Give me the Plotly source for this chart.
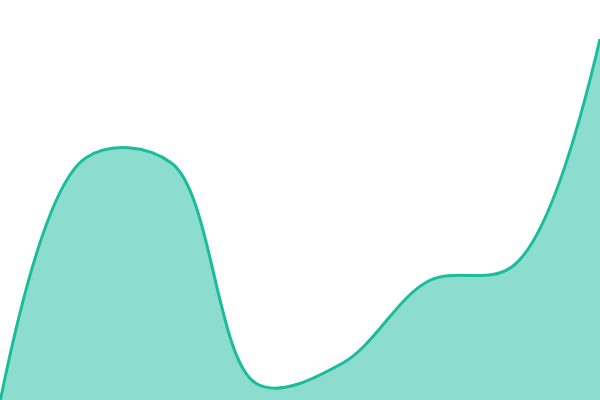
import plotly.graph_objects as go

x_vals = [0, 1, 2, 3, 4, 5, 6, 7]
y_vals = [-2, 242, 237, 16, 37, 119, 135, 361]

fig = go.Figure()
fig.add_trace(go.Scatter(
    x=x_vals, y=y_vals, mode="lines",
    line=dict(color="#1abc9c", width=3, shape="spline", smoothing=1),
    fill="tozeroy", fillcolor="rgba(26,188,156,0.5)",
    hoverinfo="skip",
))
fig.update_layout(
    width=600, height=400,
    margin=dict(l=0, r=0, t=0, b=0),
    paper_bgcolor="white", plot_bgcolor="white",
    showlegend=False,
    xaxis=dict(range=[0, 7], visible=False, fixedrange=True),
    yaxis=dict(range=[0, 400], visible=False, fixedrange=True),
)
fig.write_html(
    "out.html",
    config={"displayModeBar": False},
    post_script="document.body.style.margin='0';document.body.style.overflow='hidden';",
)
